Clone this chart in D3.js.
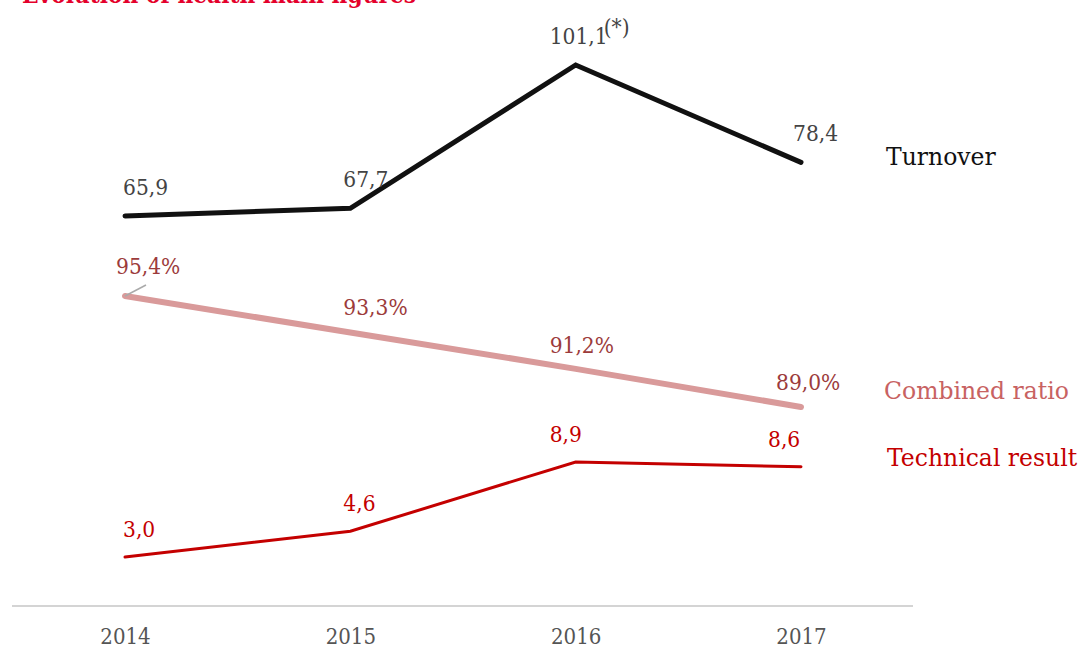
<!DOCTYPE html>
<html>
<head>
<meta charset="utf-8">
<script src="https://cdn.jsdelivr.net/npm/d3@7"></script>
<style>
  html, body { margin: 0; padding: 0; background: #fff; }
  svg { display: block; }
  text { font-family: "DejaVu Serif", "Liberation Serif", serif; }
  .value { font-stretch: condensed; }
</style>
</head>
<body>
<svg id="chart" width="1083" height="649"></svg>
<script>
// Health business: main figures by year
const years = ["2014", "2015", "2016", "2017"];
const turnover = [65.9, 67.7, 101.1, 78.4];
const combinedRatio = [95.4, 93.3, 91.2, 89.0];
const technicalResult = [3.0, 4.6, 8.9, 8.6];

const fmt = v => v.toFixed(1).replace(".", ",");
const svg = d3.select("#chart");

const x = d3.scalePoint().domain(years).range([125, 801]);

// Each series sits in its own band with its own vertical scale
const yTurnover = d3.scaleLinear().domain([65.9, 101.1]).range([216, 65]);
const yRatio = d3.scaleLinear().domain([95.4, 89.0]).range([296, 407]);
const yTech = d3.scaleLinear().domain([3.0, 8.9]).range([557, 462]);

// Title (partly above the visible area)
svg.append("text")
  .attr("x", 22).attr("y", 3)
  .attr("fill", "#e4002b")
  .attr("font-weight", "bold")
  .attr("font-size", 25)
  .attr("textLength", 394)
  .attr("lengthAdjust", "spacingAndGlyphs")
  .text("Evolution of health main figures");

// Baseline axis
const axis = d3.axisBottom(x).tickSize(0).tickPadding(22);
const gAxis = svg.append("g").attr("transform", "translate(0,606)").call(axis);
gAxis.select(".domain").remove();
gAxis.append("line")
  .attr("x1", 12).attr("x2", 913)
  .attr("stroke", "#d4d4d4").attr("stroke-width", 2);
gAxis.selectAll(".tick text")
  .attr("font-family", "DejaVu Serif, serif")
  .attr("font-size", 22)
  .attr("fill", "#555")
  .style("font-stretch", "condensed");

function drawLine(values, y, color, width) {
  const line = d3.line().x((d, i) => x(years[i])).y(d => y(d));
  svg.append("path")
    .datum(values)
    .attr("d", line)
    .attr("fill", "none")
    .attr("stroke", color)
    .attr("stroke-width", width)
    .attr("stroke-linecap", "round")
    .attr("stroke-linejoin", "miter");
}

drawLine(turnover, yTurnover, "#111", 5);
drawLine(combinedRatio, yRatio, "#d99a9a", 6);
drawLine(technicalResult, yTech, "#c40000", 3);

const LABEL_SIZE = 22.5;

// Value labels
const turnoverDx = [-2, -7, -26, -8];
svg.selectAll(".lbl-turnover").data(turnover).enter().append("text")
  .attr("class", "lbl-turnover value")
  .attr("x", (d, i) => x(years[i]) + turnoverDx[i])
  .attr("y", d => yTurnover(d) - 21)
  .attr("font-size", LABEL_SIZE)
  .attr("fill", "#444")
  .text(d => fmt(d));

// "(*)" note marker next to the 2016 turnover value
svg.append("text")
  .attr("class", "value")
  .attr("x", x("2016") + 28).attr("y", yTurnover(101.1) - 30)
  .attr("font-size", LABEL_SIZE)
  .attr("fill", "#444")
  .text("(*)");

const ratioDx = [-9, -7, -26, -25];
const ratioDy = [-22, -17, -16, -17];
svg.selectAll(".lbl-ratio").data(combinedRatio).enter().append("text")
  .attr("class", "lbl-ratio value")
  .attr("x", (d, i) => x(years[i]) + ratioDx[i])
  .attr("y", (d, i) => yRatio(d) + ratioDy[i])
  .attr("font-size", LABEL_SIZE)
  .attr("fill", "#9c3b3b")
  .text(d => fmt(d) + "%");

// Leader from the first ratio label to its point
svg.append("line")
  .attr("x1", x("2014")).attr("y1", yRatio(95.4))
  .attr("x2", x("2014") + 21).attr("y2", yRatio(95.4) - 11)
  .attr("stroke", "#aaa").attr("stroke-width", 1.5);

const techDx = [-2, -7, -26, -33];
svg.selectAll(".lbl-tech").data(technicalResult).enter().append("text")
  .attr("class", "lbl-tech value")
  .attr("x", (d, i) => x(years[i]) + techDx[i])
  .attr("y", d => yTech(d) - 20)
  .attr("font-size", LABEL_SIZE)
  .attr("fill", "#c40000")
  .text(d => fmt(d));

// Series names
const seriesNames = [
  { name: "Turnover", x: 886, y: 165, color: "#111" },
  { name: "Combined ratio", x: 884, y: 399, color: "#c86262" },
  { name: "Technical result", x: 887, y: 466, color: "#c40000" }
];
svg.selectAll(".series-name").data(seriesNames).enter().append("text")
  .attr("class", "series-name")
  .attr("x", d => d.x).attr("y", d => d.y)
  .attr("font-size", 23.5)
  .attr("fill", d => d.color)
  .text(d => d.name);
</script>
</body>
</html>
